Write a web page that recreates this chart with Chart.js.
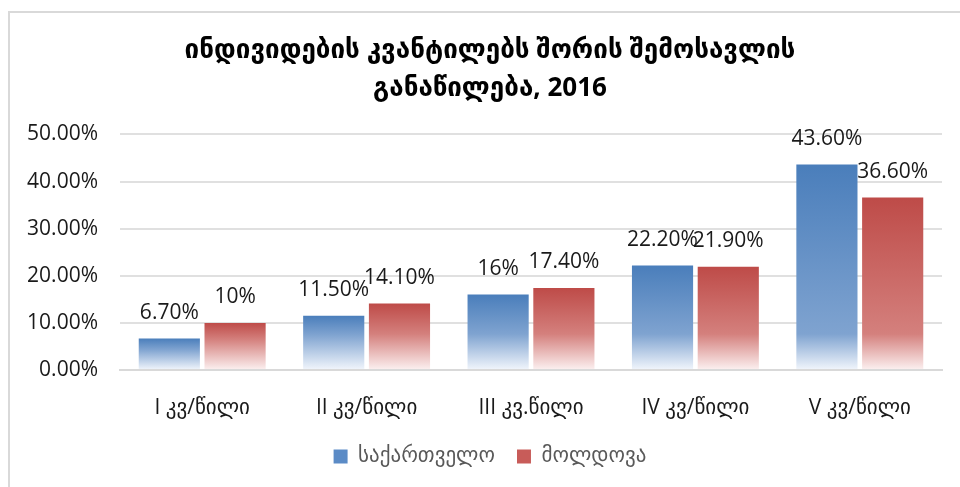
<!DOCTYPE html>
<html>
<head>
<meta charset="utf-8">
<script src="https://cdn.jsdelivr.net/npm/chart.js@4.4.1/dist/chart.umd.min.js"></script>
<style>
  html, body { margin: 0; padding: 0; background: #fff; }
  #frame {
    position: absolute; left: 8px; top: 11px; width: 960px; height: 480px;
    border-left: 2px solid #d9d9d9; border-top: 2px solid #d9d9d9;
  }
  #wrap { position: absolute; left: 0; top: 0; width: 960px; height: 487px; }
</style>
</head>
<body>
<div id="frame"></div>
<div id="wrap"><canvas id="myChart" width="960" height="487"></canvas></div>
<script>
const categories = ['I კვ/წილი', 'II კვ/წილი', 'III კვ.წილი', 'IV კვ/წილი', 'V კვ/წილი'];
const georgiaValues = [6.7, 11.5, 16, 22.2, 43.6];
const moldovaValues = [10, 14.1, 17.4, 21.9, 36.6];
const georgiaLabels = ['6.70%', '11.50%', '16%', '22.20%', '43.60%'];
const moldovaLabels = ['10%', '14.10%', '17.40%', '21.90%', '36.60%'];
const seriesNames = ['საქართველო', 'მოლდოვა'];
const titleLines = ['ინდივიდების კვანტილებს შორის შემოსავლის', 'განაწილება, 2016'];

const FONT = "'Open Sans', 'DejaVu Sans', sans-serif";

// gradient: strong at the top, fading out near the axis
function barFill(top, mid, low) {
  return function(context) {
    const chart = context.chart;
    if (!chart.chartArea) return top;
    const y = chart.scales.y;
    const yTop = y.getPixelForValue(context.raw);
    const yBase = y.getPixelForValue(0);
    const h = Math.max(1, yBase - yTop);
    const fade = Math.max(0.35, 1 - 36 / h);
    const g = chart.ctx.createLinearGradient(0, yTop, 0, yBase);
    g.addColorStop(0, top);
    g.addColorStop(fade, mid);
    g.addColorStop(1, low);
    return g;
  };
}

const valueLabels = {
  id: 'valueLabels',
  afterDatasetsDraw(chart) {
    const ctx = chart.ctx;
    const texts = [georgiaLabels, moldovaLabels];
    ctx.save();
    ctx.font = '21px ' + FONT;
    ctx.fillStyle = '#1a1a1a';
    ctx.textAlign = 'center';
    ctx.textBaseline = 'bottom';
    chart.data.datasets.forEach((ds, i) => {
      chart.getDatasetMeta(i).data.forEach((bar, j) => {
        ctx.fillText(texts[i][j], bar.x, bar.y - 15);
      });
    });
    ctx.restore();
  }
};

const canvas = document.getElementById('myChart');
const ctx = canvas.getContext('2d');
const config = {
  type: 'bar',
  data: {
    labels: categories,
    datasets: [
      {
        label: seriesNames[0],
        data: georgiaValues,
        backgroundColor: barFill('#4a7ebb', '#7fa3d0', '#f2f6fc'),
        borderWidth: 0
      },
      {
        label: seriesNames[1],
        data: moldovaValues,
        backgroundColor: barFill('#be4b48', '#d4807d', '#fcf1f1'),
        borderWidth: 0
      }
    ]
  },
  options: {
    responsive: false,
    animation: false,
    layout: { padding: { left: 38, right: 18, top: 32, bottom: 10 } },
    categoryPercentage: 0.8,
    barPercentage: 0.93,
    plugins: {
      title: {
        display: true,
        text: titleLines,
        color: '#000',
        font: { family: FONT, size: 26, weight: 'bold', lineHeight: 1.45 },
        padding: { top: 0, bottom: 27 }
      },
      legend: {
        position: 'bottom',
        labels: {
          color: '#595959',
          font: { family: FONT, size: 21 },
          boxWidth: 14,
          boxHeight: 14,
          padding: 22,
          generateLabels(chart) {
            const fills = ['#5b8bc6', '#c85c59'];
            return chart.data.datasets.map((ds, i) => ({
              text: ds.label,
              fillStyle: fills[i],
              strokeStyle: fills[i],
              lineWidth: 0,
              fontColor: '#595959',
              datasetIndex: i
            }));
          }
        }
      },
      tooltip: { enabled: false }
    },
    scales: {
      x: {
        grid: { display: false },
        border: { color: '#d9d9d9', width: 2 },
        ticks: { color: '#1a1a1a', font: { family: FONT, size: 21 }, padding: 17 },
        afterFit(scale) { scale.height = 54; }
      },
      y: {
        min: 0,
        max: 50,
        beginAtZero: true,
        grid: { color: '#e0e0e0', lineWidth: 2, drawTicks: false },
        border: { display: false },
        ticks: {
          stepSize: 10,
          color: '#1a1a1a',
          font: { family: FONT, size: 21 },
          padding: 22,
          callback: v => v.toFixed(2) + '%'
        },
        afterFit(scale) {
          scale.width = 82;
          // labels hang out past the narrowed box, so don't clip them
          scale._computeLabelArea = () => undefined;
        }
      }
    }
  },
  plugins: [valueLabels]
};

var myChart = new Chart(ctx, config);
</script>
</body>
</html>
